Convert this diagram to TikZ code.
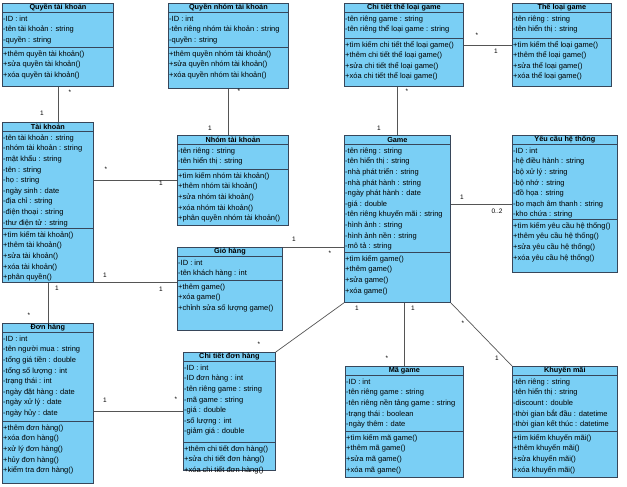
\documentclass[tikz,border=0pt]{standalone}
\usepackage{fontspec}
\setmainfont{Liberation Sans}
\usetikzlibrary{calc}
\definecolor{classfill}{RGB}{122,207,245}
\definecolor{classborder}{RGB}{55,70,90}
\definecolor{assoc}{RGB}{85,85,85}
\newcommand{\memberfont}{\fontsize{7.5}{10.6}\selectfont\lineskiplimit -20pt\relax}
\tikzset{
  classbox/.style={draw=classborder, fill=classfill, line width=0.8pt, inner sep=0pt, anchor=north west},
  sepline/.style={draw=classborder, line width=0.6pt},
  classtitle/.style={font=\fontsize{7.3}{8}\selectfont\bfseries, inner sep=0pt},
  members/.style={font=\memberfont, align=left, anchor=north west, inner xsep=1pt, inner ysep=1pt},
  assocline/.style={draw=assoc, line width=0.7pt},
  mult/.style={font=\fontsize{6.5}{7}\selectfont, inner sep=0pt},
}
% #1 name, #2 left, #3 top, #4 width, #5 attribute height, #6 total height,
% #7 title, #8 attributes, #9 operations
\newcommand{\umlclass}[9]{%
  \node[classbox, minimum width=#4pt, minimum height=#6pt] (#1) at (#2,#3) {};
  \node[classtitle] at ($(#1.north)+(0,4.5)$) {#7};
  \draw[sepline] ($(#1.north west)+(0,9)$) -- ++(#4,0);
  \node[members] at ($(#1.north west)+(0,9)$) {\rule{0pt}{8pt}#8};
  \draw[sepline] ($(#1.north west)+(0,9+#5)$) -- ++(#4,0);
  \node[members] at ($(#1.north west)+(0,9+#5)$) {\rule{0pt}{8pt}#9};
}

\begin{document}
\begin{tikzpicture}[x=1pt,y=-1pt]
  \fill[white] (0,0) rectangle (627,487);
  \useasboundingbox (0,0) rectangle (627,487);

  % top row
  \umlclass{quyentk}{2}{3}{111}{35}{83}{Quyền tài khoản}
    {-ID : int\\-tên tài khoản : string\\-quyền : string}
    {+thêm quyền tài khoản()\\+sửa quyền tài khoản()\\+xóa quyền tài khoản()}
  \umlclass{quyennhom}{168}{3}{120}{35}{85}{Quyền nhóm tài khoản}
    {-ID : int\\-tên riêng nhóm tài khoản : string\\-quyền : string}
    {+thêm quyền nhóm tài khoản()\\+sửa quyền nhóm tài khoản()\\+xóa quyền nhóm tài khoản()}
  \umlclass{cttl}{344}{3}{119}{26}{83}{Chi tiết thể loại game}
    {-tên riêng game : string\\-tên riêng thể loại game : string}
    {+tìm kiếm chi tiết thể loại game()\\+thêm chi tiết thể loại game()\\+sửa chi tiết thể loại game()\\+xóa chi tiết thể loại game()}
  \umlclass{theloai}{512}{3}{99}{26}{83}{Thể loại game}
    {-tên riêng : string\\-tên hiển thị : string}
    {+tìm kiếm thể loại game()\\+thêm thể loại game()\\+sửa thể loại game()\\+xóa thể loại game()}

  % middle row
  \umlclass{taikhoan}{2}{122}{91}{97}{160}{Tài khoản}
    {-tên tài khoản : string\\-nhóm tài khoản : string\\-mật khẩu : string\\-tên : string\\-họ : string\\-ngày sinh : date\\-địa chỉ : string\\-điện thoại : string\\-thư điện tử : string}
    {+tìm kiếm tài khoản()\\+thêm tài khoản()\\+sửa tài khoản()\\+xóa tài khoản()\\+phân quyền()}
  \umlclass{nhomtk}{177}{135}{111}{25}{90}{Nhóm tài khoản}
    {-tên riêng : string\\-tên hiển thị : string}
    {+tìm kiếm nhóm tài khoản()\\+thêm nhóm tài khoản()\\+sửa nhóm tài khoản()\\+xóa nhóm tài khoản()\\+phân quyền nhóm tài khoản()}
  \umlclass{giohang}{177}{247}{105}{24}{83}{Giỏ hàng}
    {-ID : int\\-tên khách hàng : int}
    {+thêm game()\\+xóa game()\\+chỉnh sửa số lượng game()}
  \umlclass{game}{344}{135}{106}{108}{167}{Game}
    {-tên riêng : string\\-tên hiển thị : string\\-nhà phát triển : string\\-nhà phát hành : string\\-ngày phát hành : date\\-giá : double\\-tên riêng khuyến mãi : string\\-hình ảnh : string\\-hình ảnh nền : string\\-mô tả : string}
    {+tìm kiếm game()\\+thêm game()\\+sửa game()\\+xóa game()}
  \umlclass{yeucau}{512}{135}{105}{75}{137}{Yêu cầu hệ thống}
    {-ID : int\\-hệ điều hành : string\\-bộ xử lý : string\\-bộ nhớ : string\\-đồ họa : string\\-bo mạch âm thanh : string\\-kho chứa : string}
    {+tìm kiếm yêu cầu hệ thống()\\+thêm yêu cầu hệ thống()\\+sửa yêu cầu hệ thống()\\+xóa yêu cầu hệ thống()}

  % bottom row
  \umlclass{donhang}{2}{323}{91}{89}{160}{Đơn hàng}
    {-ID : int\\-tên người mua : string\\-tổng giá tiền : double\\-tổng số lượng : int\\-trạng thái : int\\-ngày đặt hàng : date\\-ngày xử lý : date\\-ngày hủy : date}
    {+thêm đơn hàng()\\+xóa đơn hàng()\\+xử lý đơn hàng()\\+hủy đơn hàng()\\+kiểm tra đơn hàng()}
  \umlclass{ctdh}{183}{352}{92}{81}{118}{Chi tiết đơn hàng}
    {-ID : int\\-ID đơn hàng : int\\-tên riêng game : string\\-mã game : string\\-giá : double\\-số lượng : int\\-giảm giá : double}
    {+thêm chi tiết đơn hàng()\\+sửa chi tiết đơn hàng()\\+xóa chi tiết đơn hàng()}
  \umlclass{magame}{345}{366}{118}{56}{111}{Mã game}
    {-ID : int\\-tên riêng game : string\\-tên riêng nền tảng game : string\\-trạng thái : boolean\\-ngày thêm : date}
    {+tìm kiếm mã game()\\+thêm mã game()\\+sửa mã game()\\+xóa mã game()}
  \umlclass{khuyenmai}{512}{366}{105}{56}{111}{Khuyến mãi}
    {-tên riêng : string\\-tên hiển thị : string\\-discount : double\\-thời gian bắt đầu : datetime\\-thời gian kết thúc : datetime}
    {+tìm kiếm khuyến mãi()\\+thêm khuyến mãi()\\+sửa khuyến mãi()\\+xóa khuyến mãi()}

  % associations
  \draw[assocline] (quyentk.south) -- (quyentk.south |- taikhoan.north);
  \draw[assocline] (quyennhom.south) -- (quyennhom.south |- nhomtk.north);
  \draw[assocline] (game.north) -- (game.north |- cttl.south);
  \draw[assocline] (cttl.east) -- (theloai.west);
  \draw[assocline] (nhomtk.west -| taikhoan.east) -- (nhomtk.west);
  \draw[assocline] (taikhoan.south east) -- (taikhoan.south east -| giohang.west);
  \draw[assocline] (taikhoan.south) -- (donhang.north);
  \draw[assocline] (giohang.north east) -- (giohang.north east -| game.west);
  \draw[assocline] (game.east |- yeucau.west) -- (yeucau.west);
  \draw[assocline] (donhang.east |- ctdh.west) -- (ctdh.west);
  \draw[assocline] (ctdh.north east) -- (game.south west);
  \draw[assocline] (magame.north) -- (magame.north |- game.south);
  \draw[assocline] (game.south east) -- (khuyenmai.north west);

  % multiplicities
  \node[mult] at (70,92) {*};   \node[mult] at (42,113) {1};
  \node[mult] at (239,91) {*};  \node[mult] at (210,128) {1};
  \node[mult] at (407,91) {*};  \node[mult] at (379,128) {1};
  \node[mult] at (477,35) {*};  \node[mult] at (496,51) {1};
  \node[mult] at (106,169) {*}; \node[mult] at (161,183) {1};
  \node[mult] at (105,275) {1}; \node[mult] at (161,289) {1};
  \node[mult] at (57,288) {1};  \node[mult] at (29,315) {*};
  \node[mult] at (294,239) {1}; \node[mult] at (330,253) {*};
  \node[mult] at (462,197) {1}; \node[mult] at (497,211) {0..2};
  \node[mult] at (105,400) {1}; \node[mult] at (176,399) {*};
  \node[mult] at (259,344) {*}; \node[mult] at (357,308) {1};
  \node[mult] at (413,308) {1}; \node[mult] at (387,358) {*};
  \node[mult] at (463,323) {*}; \node[mult] at (497,358) {1};
\end{tikzpicture}
\end{document}
